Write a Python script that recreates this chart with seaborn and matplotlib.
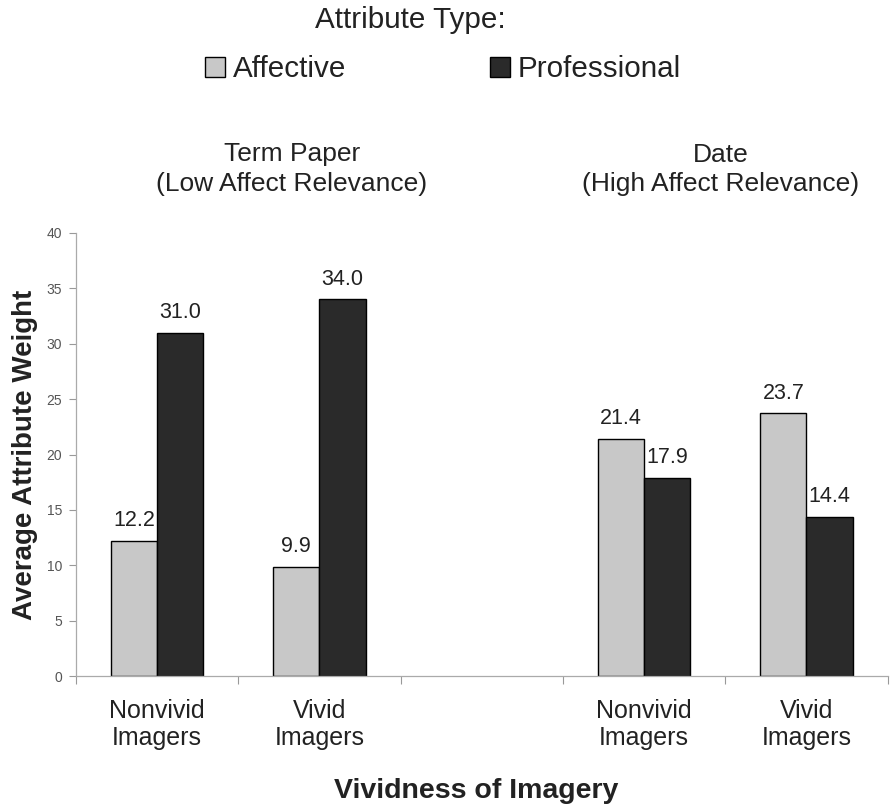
import matplotlib
matplotlib.use("Agg")
import matplotlib.pyplot as plt
import seaborn as sns
import pandas as pd
from matplotlib.patches import Patch
from matplotlib.ticker import FixedLocator

# Data
slots = ["TP_NV", "TP_V", "GAP", "D_NV", "D_V"]
slot_labels = ["Nonvivid\nImagers", "Vivid\nImagers", "", "Nonvivid\nImagers", "Vivid\nImagers"]
conditions = ["TP_NV", "TP_V", "D_NV", "D_V"]
affective = [12.2, 9.9, 21.4, 23.7]
professional = [31.0, 34.0, 17.9, 14.4]
attr_types = ["Affective", "Professional"]
colors = ["#c8c8c8", "#2a2a2a"]

df = pd.DataFrame({
    "cond": conditions * 2,
    "type": [attr_types[0]] * 4 + [attr_types[1]] * 4,
    "value": affective + professional,
})

sns.set_style("white")
plt.rcParams["font.family"] = ["Liberation Sans", "DejaVu Sans"]

TXT = "#222222"
fig = plt.figure(figsize=(8.93, 8.08), dpi=100)
ax = fig.add_axes([0.085, 0.163, 0.909, 0.549])

sns.barplot(data=df, x="cond", y="value", hue="type", order=slots,
            hue_order=attr_types, palette=colors, width=0.57,
            edgecolor="black", linewidth=1.0, saturation=1, ax=ax, legend=False)

for cont in ax.containers:
    labels = []
    for b in cont:
        h = b.get_height()
        labels.append("" if (h != h or h == 0) else f"{h:.1f}")
    ax.bar_label(cont, labels=labels, padding=7, fontsize=15.5, color=TXT)

ax.set_ylim(0, 40)
ax.set_yticks(range(0, 41, 5))
ax.set_xlim(-0.5, 4.5)
ax.set_xticks(range(5))
ax.set_xticklabels(slot_labels, fontsize=18, color=TXT, linespacing=1.2)
ax.xaxis.set_minor_locator(FixedLocator([-0.5, 0.5, 1.5, 2.5, 3.5, 4.5]))
ax.tick_params(axis="x", which="major", length=0, pad=16)
ax.tick_params(axis="x", which="minor", length=6, color="#999999", width=0.8, bottom=True)
ax.tick_params(axis="y", labelsize=10, labelcolor="#555555", length=5, color="#999999",
               width=0.8, left=True, pad=5)

for s in ["top", "right"]:
    ax.spines[s].set_visible(False)
for s in ["left", "bottom"]:
    ax.spines[s].set_color("#aaaaaa")
    ax.spines[s].set_linewidth(0.9)

ax.set_xlabel("")
ax.set_ylabel("")
fig.text(0.028, 0.437, "Average Attribute Weight", rotation=90, ha="center", va="center",
         fontsize=20, fontweight="bold", color=TXT)
fig.text(0.533, 0.0124, "Vividness of Imagery", ha="center", va="baseline",
         fontsize=20.5, fontweight="bold", color=TXT)

# Group titles
fig.text(0.327, 0.8007, "Term Paper", ha="center", va="baseline", fontsize=19, color=TXT)
fig.text(0.327, 0.7636, "(Low Affect Relevance)", ha="center", va="baseline", fontsize=19, color=TXT)
fig.text(0.807, 0.7995, "Date", ha="center", va="baseline", fontsize=19, color=TXT)
fig.text(0.807, 0.7636, "(High Affect Relevance)", ha="center", va="baseline", fontsize=19, color=TXT)

# Legend
fig.text(0.460, 0.9653, "Attribute Type:", ha="center", va="baseline",
         fontsize=21.3, color=TXT)
handles = [Patch(facecolor=c, edgecolor="black", linewidth=1.0) for c in colors]
fig.legend(handles, attr_types, loc="center", bbox_to_anchor=(0.496, 0.914), ncol=2,
           frameon=False, fontsize=21.3, handlelength=0.68, handleheight=0.68,
           handletextpad=0.25, columnspacing=4.86, labelcolor=TXT,
           borderpad=0, borderaxespad=0)

fig.savefig("out.png", dpi=100)
